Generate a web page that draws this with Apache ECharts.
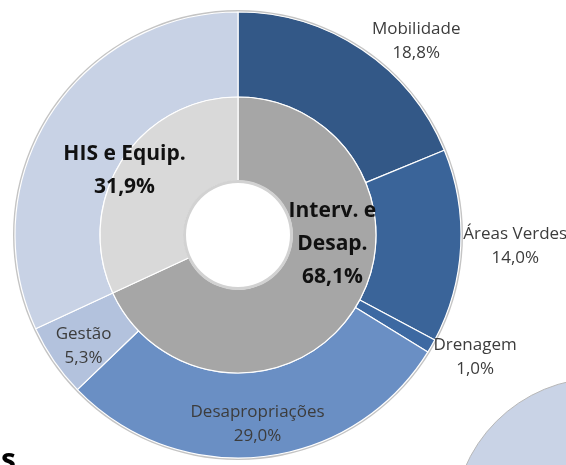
<!DOCTYPE html>
<html>
<head>
<meta charset="utf-8">
<script src="https://cdn.jsdelivr.net/npm/echarts@6/dist/echarts.min.js"></script>
<style>
  html, body { margin: 0; padding: 0; background: #ffffff; }
  #chart { width: 566px; height: 465px; }
</style>
</head>
<body>
<div id="chart"></div>
<script>
// Inner ring: two investment groups (%)
const groupNames = ['Interv. e\nDesap.', 'HIS e Equip.'];
const groupValues = [68.1, 31.9];

// Outer ring: breakdown of each group (%)
const itemNames = ['Mobilidade', 'Áreas Verdes', 'Drenagem', 'Desapropriações', 'Gestão', 'HIS e Equip.'];
const itemValues = [18.8, 14.0, 1.0, 29.0, 5.3, 31.9];

const groupColors = ['#a6a6a6', '#d9d9d9'];
const itemColors = ['#335887', '#3a6499', '#3d69a2', '#6a8fc4', '#b3c2dd', '#c8d2e5'];

// label nudges away from the default "inside" anchor
const groupLabelOffsets = [[11, -44], [-30, -11]];
const itemLabelOffsets = [[76, -41], [94, 2], [78, 31], [0, 7], [-3, 8], [0, 0]];

const pct = v => v.toFixed(1).replace('.', ',') + '%';
const center = [238, 235];
const font = '"Open Sans", "DejaVu Sans", sans-serif';

const chart = echarts.init(document.getElementById('chart'), null, { renderer: 'canvas' });

chart.setOption({
  backgroundColor: '#ffffff',
  animation: false,
  graphic: [
    {
      type: 'circle',
      shape: { cx: 601, cy: 526, r: 148 },
      style: { fill: '#c9d3e6', stroke: '#b8b8b8', lineWidth: 1 },
      z: 0
    },
    {
      type: 'text',
      left: 1,
      top: 446,
      style: { text: 's', font: 'bold 30px ' + font, fill: '#000000' },
      z: 0
    }
  ],
  series: [
    {
      // soft grey rim around the outer ring
      type: 'pie', silent: true, center, radius: [221, 225],
      label: { show: false }, labelLine: { show: false },
      data: [{ value: 1, itemStyle: { color: '#c4c4c4' } }], z: 1
    },
    {
      type: 'pie', name: 'outer', center, radius: [138, 223],
      startAngle: 90, clockwise: true, silent: true,
      itemStyle: { borderColor: '#ffffff', borderWidth: 1.2 },
      labelLine: { show: false },
      data: itemNames.map((n, i) => ({
        name: n,
        value: itemValues[i],
        itemStyle: { color: itemColors[i] },
        label: {
          show: i !== itemNames.length - 1,
          position: 'inside',
          offset: itemLabelOffsets[i],
          formatter: p => p.name + '\n' + pct(p.value),
          fontFamily: font,
          fontSize: 17,
          lineHeight: 24,
          color: '#3c3c3c',
          align: 'center'
        }
      })),
      z: 2
    },
    {
      type: 'pie', name: 'inner', center, radius: [54, 138],
      startAngle: 90, clockwise: true, silent: true,
      itemStyle: { borderColor: '#ffffff', borderWidth: 1.2 },
      labelLine: { show: false },
      data: groupNames.map((n, i) => ({
        name: n,
        value: groupValues[i],
        itemStyle: { color: groupColors[i] },
        label: {
          show: true,
          position: 'inside',
          offset: groupLabelOffsets[i],
          formatter: p => p.name + '\n' + pct(p.value),
          fontFamily: font,
          fontWeight: 'bold',
          fontSize: 21,
          lineHeight: 33,
          color: '#111111',
          align: 'center'
        }
      })),
      z: 3
    },
    {
      // thin grey edge of the centre hole
      type: 'pie', silent: true, center, radius: [52, 55],
      label: { show: false }, labelLine: { show: false },
      data: [{ value: 1, itemStyle: { color: '#d2d2d2' } }], z: 4
    }
  ]
});
</script>
</body>
</html>
